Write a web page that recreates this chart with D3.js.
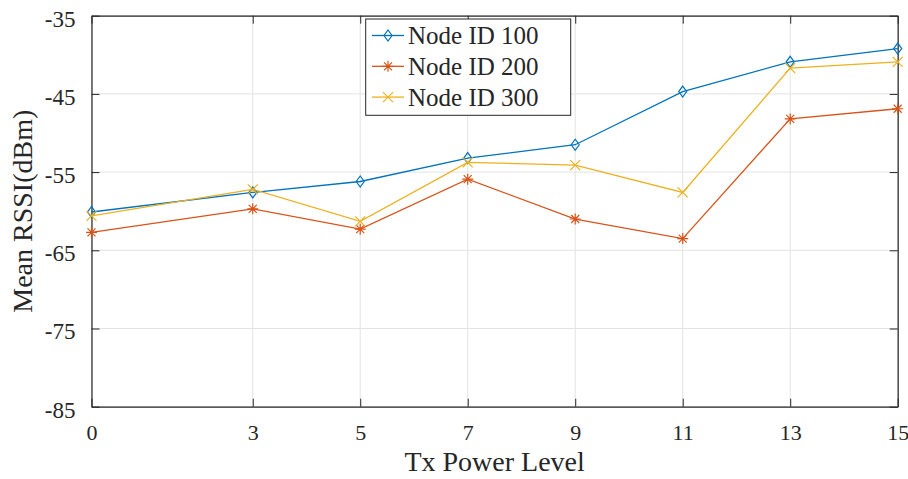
<!DOCTYPE html>
<html><head><meta charset="utf-8">
<script src="https://cdn.jsdelivr.net/npm/d3@7"></script>
<style>body{margin:0;background:#fff;} svg{display:block;} text{font-family:"Liberation Serif","Times New Roman",serif;fill:#262626;}</style>
</head><body>
<svg id="chart" width="908" height="479"></svg>
<script>
const txLevels = [0, 3, 5, 7, 9, 11, 13, 15];
const node100 = [-60.1, -57.6, -56.2, -53.2, -51.5, -44.7, -40.9, -39.2];
const node200 = [-62.7, -59.7, -62.3, -55.9, -61.0, -63.5, -48.2, -46.9];
const node300 = [-60.6, -57.2, -61.3, -53.75, -54.1, -57.6, -41.7, -40.9];
const seriesNames = ["Node ID 100", "Node ID 200", "Node ID 300"];
const xTicks = [0, 3, 5, 7, 9, 11, 13, 15];
const yTicks = [-85, -75, -65, -55, -45, -35];

const colors = ["#0072BD", "#D95319", "#EDB120"];
const markers = ["diamond", "asterisk", "cross"];
const series = [node100, node200, node300];

const svg = d3.select("#chart");
const L = 91.5, R = 897.7, T = 15.7, B = 406.7;
const x = d3.scaleLinear().domain([0, 15]).range([L, R]);
const y = d3.scaleLinear().domain([-85, -35]).range([B, T]);
const axisCol = "#262626";

// grid
const g = svg.append("g");
g.selectAll(".gx").data(xTicks).join("line")
  .attr("x1", d => x(d)).attr("x2", d => x(d)).attr("y1", T).attr("y2", B)
  .attr("stroke", "#e3e3e3").attr("stroke-width", 1);
g.selectAll(".gy").data(yTicks).join("line")
  .attr("y1", d => y(d)).attr("y2", d => y(d)).attr("x1", L).attr("x2", R)
  .attr("stroke", "#e3e3e3").attr("stroke-width", 1);

// axes
const tk = 8;
const fmt = d => String(d);
const xAxis = d3.axisBottom(x).tickValues(xTicks).tickSizeInner(-tk).tickSizeOuter(0).tickPadding(18).tickFormat(fmt);
const yAxis = d3.axisLeft(y).tickValues(yTicks).tickSizeInner(-tk).tickSizeOuter(0).tickPadding(16).tickFormat(fmt);
const xTop = d3.axisTop(x).tickValues(xTicks).tickSizeInner(-tk).tickSizeOuter(0).tickFormat("");
const yRight = d3.axisRight(y).tickValues(yTicks).tickSizeInner(-tk).tickSizeOuter(0).tickFormat("");

function styleAxis(sel, fs) {
  sel.selectAll("path").attr("stroke", axisCol).attr("stroke-width", 1.2);
  sel.selectAll("line").attr("stroke", axisCol).attr("stroke-width", 1);
  sel.selectAll("text").attr("fill", axisCol).style("font-size", fs + "px").style("font-family", '"Liberation Serif","Times New Roman",serif');
}
svg.append("g").attr("transform", `translate(0,${B})`).call(xAxis).call(s => styleAxis(s, 22));
svg.append("g").attr("transform", `translate(${L},0)`).call(yAxis).call(s => styleAxis(s, 23))
  .selectAll("text").attr("dy", "0.45em");
svg.append("g").attr("transform", `translate(0,${T})`).call(xTop).call(s => styleAxis(s, 22));
svg.append("g").attr("transform", `translate(${R},0)`).call(yRight).call(s => styleAxis(s, 22));

// marker paths
function markerPath(type, cx, cy) {
  if (type === "diamond") {
    const w = 4, h = 5.5;
    return `M${cx},${cy - h}L${cx + w},${cy}L${cx},${cy + h}L${cx - w},${cy}Z`;
  }
  if (type === "asterisk") {
    const s = 5.5, d = 4;
    return `M${cx - s},${cy}L${cx + s},${cy}M${cx},${cy - s}L${cx},${cy + s}M${cx - d},${cy - d}L${cx + d},${cy + d}M${cx - d},${cy + d}L${cx + d},${cy - d}`;
  }
  const s = 5;
  return `M${cx - s},${cy - s}L${cx + s},${cy + s}M${cx - s},${cy + s}L${cx + s},${cy - s}`;
}

const line = d3.line().x((d, i) => x(txLevels[i])).y(d => y(d));
series.forEach((vals, k) => {
  const sg = svg.append("g");
  sg.append("path").datum(vals).attr("d", line).attr("fill", "none")
    .attr("stroke", colors[k]).attr("stroke-width", 1.3);
  sg.selectAll("path.m").data(vals).join("path").attr("class", "m")
    .attr("d", (d, i) => markerPath(markers[k], x(txLevels[i]), y(d)))
    .attr("fill", "none").attr("stroke", colors[k]).attr("stroke-width", 1.2);
});

// axis titles
svg.append("text").attr("x", (L + R) / 2).attr("y", 471).attr("text-anchor", "middle")
  .style("font-size", "28px").text("Tx Power Level");
svg.append("text").attr("transform", `translate(32,${(T + B) / 2}) rotate(-90)`).attr("text-anchor", "middle")
  .style("font-size", "28px").text("Mean RSSI(dBm)");

// legend
const lg = svg.append("g");
const lx = 365.7, ly = 19, lw = 205, lh = 96.3;
lg.append("rect").attr("x", lx).attr("y", ly).attr("width", lw).attr("height", lh)
  .attr("fill", "#fff").attr("stroke", axisCol).attr("stroke-width", 1);
seriesNames.forEach((name, k) => {
  const cy = 35.5 + k * 30.8;
  lg.append("line").attr("x1", 372).attr("x2", 404).attr("y1", cy).attr("y2", cy)
    .attr("stroke", colors[k]).attr("stroke-width", 1.3);
  lg.append("path").attr("d", markerPath(markers[k], 388, cy)).attr("fill", "none")
    .attr("stroke", colors[k]).attr("stroke-width", 1.2);
  lg.append("text").attr("x", 408).attr("y", cy).attr("dy", "0.34em")
    .style("font-size", "25px").text(name);
});
</script>
</body></html>
